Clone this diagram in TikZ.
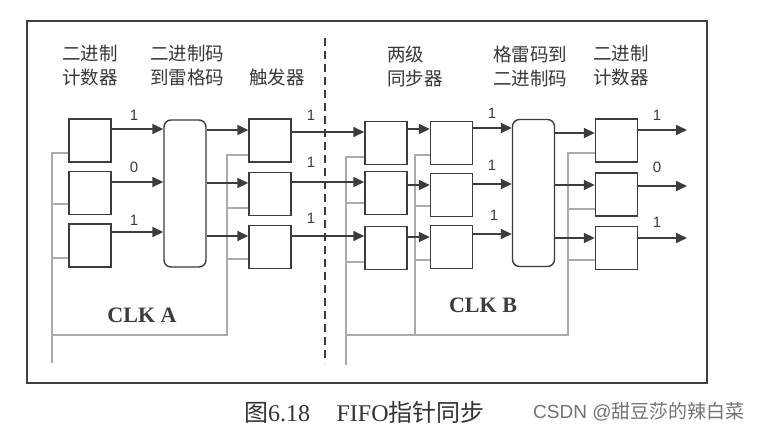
\documentclass[tikz,border=0pt]{standalone}
\usepackage{fontspec}
\setmainfont{Liberation Serif}
\newfontfamily\cjk{Noto Sans CJK SC}
\newfontfamily\arial{Liberation Sans}
\usetikzlibrary{arrows.meta,calc}
\definecolor{ln}{HTML}{3C3C3C}
\definecolor{clk}{HTML}{ABABAB}
\begin{document}
\begin{tikzpicture}[x=1pt,y=-1pt,
  box/.style={draw=ln, line width=1.4pt, minimum width=42pt, minimum height=43pt, inner sep=0pt},
  muxbox/.style={draw=ln, line width=1.4pt, minimum width=42pt, minimum height=147pt, inner sep=0pt, rounded corners=7pt},
  sig/.style={draw=ln, line width=1.6pt, -{Triangle[length=11pt,width=10pt]}},
  clkline/.style={draw=clk, line width=1.3pt},
  lbl/.style={font=\cjk\fontsize{18.5}{24}\selectfont, text=black!78, align=left, inner sep=0pt},
  bit/.style={font=\arial\fontsize{15}{15}\selectfont, text=ln, inner sep=0pt},
  clklbl/.style={font=\bfseries\fontsize{22}{22}\selectfont, text=ln, inner sep=0pt}]
\useasboundingbox (0,0) rectangle (760,433);
\fill[white] (0,0) rectangle (760,433);

% frame
\draw[line width=2.6pt, draw=black!75] (27,21) rectangle (707,383);

% headings
\node[lbl] (h1) at (90,66) {二进制\\计数器};
\node[lbl] (h2) at (187,66) {二进制码\\到雷格码};
\node[lbl] (h3) at (277,77) {触发器};
\node[lbl] (h4) at (415,66) {两级\\同步器};
\node[lbl] (h5) at (530,66) {格雷码到\\二进制码};
\node[lbl] (h6) at (621,66) {二进制\\计数器};

% boxes
\node[box] (c1) at (90,140.5) {};
\node[box] (c2) at (90,193) {};
\node[box] (c3) at (90,245.5) {};
\node[muxbox] (muxA) at (185,193.5) {};
\node[box] (f1) at (270,140.5) {};
\node[box] (f2) at (270,194) {};
\node[box] (f3) at (270,247) {};
\node[box] (s1) at (386,143) {};
\node[box] (s2) at (386,193) {};
\node[box] (s3) at (386,248) {};
\node[box] (t1) at (451.5,143) {};
\node[box] (t2) at (451.5,195) {};
\node[box] (t3) at (451.5,247) {};
\node[muxbox] (muxB) at (533.5,193) {};
\node[box] (g1) at (616.5,140.5) {};
\node[box] (g2) at (616.5,194.5) {};
\node[box] (g3) at (616.5,248) {};

% clock lines, domain A
\coordinate (ca) at (52,363);
\coordinate (cb) at (227,335);
\draw[clkline] (c1.west |- 0,153) -| (ca);
\draw[clkline] (c2.west |- 0,204) -- (ca |- 0,204);
\draw[clkline] (c3.west |- 0,258) -- (ca |- 0,258);
\draw[clkline] (ca |- cb) -- (cb) -- (cb |- 0,155) -- (f1.west |- 0,155);
\draw[clkline] (f2.west |- 0,208) -- (cb |- 0,208);
\draw[clkline] (f3.west |- 0,259) -- (cb |- 0,259);

% clock lines, domain B
\coordinate (cc) at (346,365);
\coordinate (cd) at (568,335);
\coordinate (ce) at (415,335);
\draw[clkline] (s1.west |- 0,157) -| (cc);
\draw[clkline] (s2.west |- 0,203) -- (cc |- 0,203);
\draw[clkline] (s3.west |- 0,262) -- (cc |- 0,262);
\draw[clkline] (cc |- cd) -- (cd) -- (cd |- 0,153) -- (g1.west |- 0,153);
\draw[clkline] (g2.west |- 0,209) -- (cd |- 0,209);
\draw[clkline] (g3.west |- 0,260) -- (cd |- 0,260);
\draw[clkline] (ce) -- (ce |- 0,155) -- (t1.west |- 0,155);
\draw[clkline] (t2.west |- 0,206) -- (ce |- 0,206);
\draw[clkline] (t3.west |- 0,260) -- (ce |- 0,260);

% domain boundary
\coordinate (d1) at (325,38);
\coordinate (d2) at (325,363);
\draw[draw=ln, line width=1.5pt, dash pattern=on 8pt off 5pt] (d1) -- (d2);

% signal arrows
\draw[sig] (c1.east |- 0,129) -- (muxA.west |- 0,129);
\draw[sig] (c2.east |- 0,182) -- (muxA.west |- 0,182);
\draw[sig] (c3.east |- 0,232) -- (muxA.west |- 0,232);
\draw[sig] (muxA.east |- 0,130) -- (f1.west |- 0,130);
\draw[sig] (muxA.east |- 0,183) -- (f2.west |- 0,183);
\draw[sig] (muxA.east |- 0,236) -- (f3.west |- 0,236);
\draw[sig] (f1.east |- 0,132) -- (s1.west |- 0,132);
\draw[sig] (f2.east |- 0,182) -- (s2.west |- 0,182);
\draw[sig] (f3.east |- 0,236) -- (s3.west |- 0,236);
\draw[sig] (s1.east |- 0,129) -- (t1.west |- 0,129);
\draw[sig] (s2.east |- 0,185) -- (t2.west |- 0,185);
\draw[sig] (s3.east |- 0,237) -- (t3.west |- 0,237);
\draw[sig] (t1.east |- 0,128) -- (muxB.west |- 0,128);
\draw[sig] (t2.east |- 0,184) -- (muxB.west |- 0,184);
\draw[sig] (t3.east |- 0,234) -- (muxB.west |- 0,234);
\draw[sig] (muxB.east |- 0,133) -- (g1.west |- 0,133);
\draw[sig] (muxB.east |- 0,185) -- (g2.west |- 0,185);
\draw[sig] (muxB.east |- 0,238) -- (g3.west |- 0,238);
\coordinate (o1) at (687,130);
\coordinate (o2) at (687,186);
\coordinate (o3) at (687,238);
\draw[sig] (g1.east |- o1) -- (o1);
\draw[sig] (g2.east |- o2) -- (o2);
\draw[sig] (g3.east |- o3) -- (o3);

% bit values
\node[bit] (b1) at (134,115) {1};
\node[bit] (b2) at (134,167) {0};
\node[bit] (b3) at (134,220) {1};
\node[bit] (b4) at (311,115) {1};
\node[bit] (b5) at (311,162) {1};
\node[bit] (b6) at (311,218) {1};
\node[bit] (b7) at (492,113) {1};
\node[bit] (b8) at (492,165) {1};
\node[bit] (b9) at (494,215) {1};
\node[bit] (b10) at (657,115) {1};
\node[bit] (b11) at (657,167) {0};
\node[bit] (b12) at (657,222) {1};

% clock domain labels
\node[clklbl] (clka) at (142,315) {CLK A};
\node[clklbl] (clkb) at (483,305) {CLK B};

% caption
\node[anchor=west, inner sep=0pt, font=\fontsize{24}{24}\selectfont, text=black!80] (cap) at (244,412) {{\cjk 图}6.18\hspace{1.1em}FIFO{\cjk 指针同步}};
\node[anchor=west, inner sep=0pt, font=\fontsize{19}{19}\selectfont, text=black!55] (wm) at (533,412) {{\arial CSDN @}{\cjk 甜豆莎的辣白菜}};
\end{tikzpicture}
\end{document}
